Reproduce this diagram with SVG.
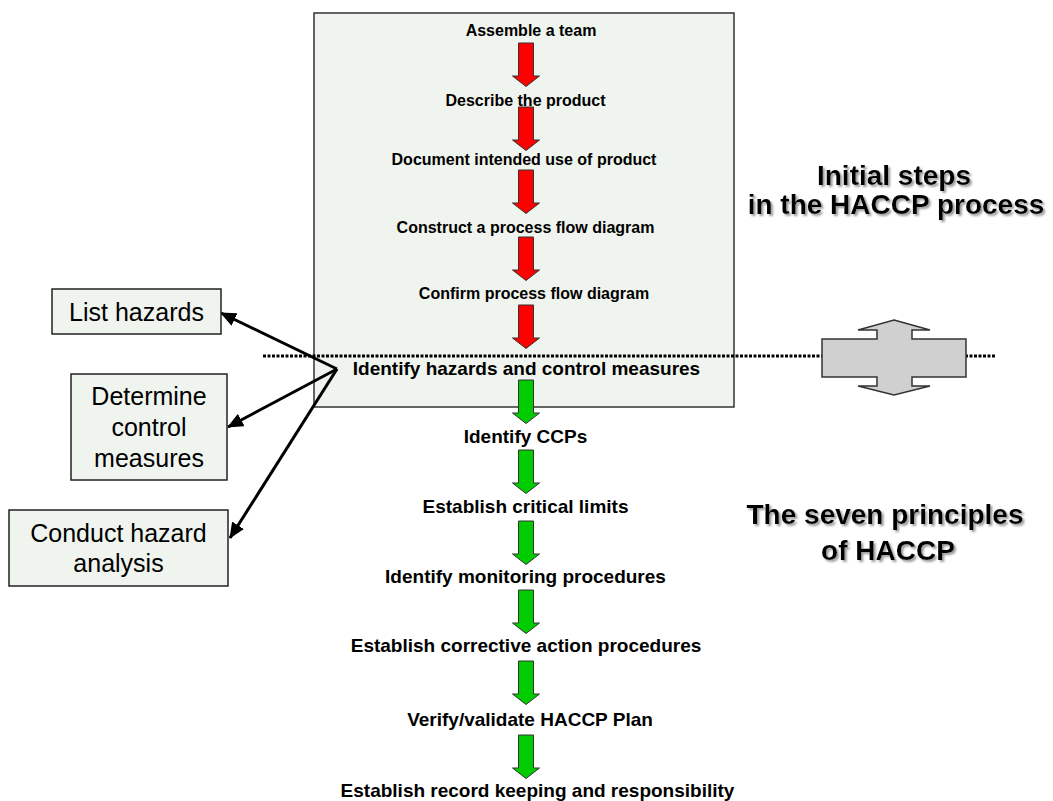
<svg xmlns="http://www.w3.org/2000/svg" width="1053" height="801" viewBox="0 0 1053 801">
<style>
.bg{fill:#ffffff}
.frame{fill:#f0f4ee;stroke:#333333;stroke-width:1.5}
.box{fill:#f0f4ee;stroke:#222222;stroke-width:1.5}
.step{font-family:"Liberation Sans",Arial,sans-serif;font-weight:bold;font-size:16px;fill:#000;text-anchor:middle}
.pr{font-family:"Liberation Sans",Arial,sans-serif;font-weight:bold;font-size:19px;fill:#000;text-anchor:middle}
.lbl{font-family:"Liberation Sans",Arial,sans-serif;font-size:25px;fill:#000;text-anchor:middle}
.title{font-family:"Liberation Sans",Arial,sans-serif;font-weight:bold;font-size:28px;fill:#000;text-anchor:middle;filter:url(#sh)}
.red{fill:#ff0000;stroke:#333333;stroke-width:1}
.green{fill:#00cc00;stroke:#333333;stroke-width:1}
.link{fill:none;stroke:#000;stroke-width:3;marker-end:url(#ah)}
.dots{stroke:#000;stroke-width:3;stroke-dasharray:3 1.5}
.dbl{fill:#d0d0d0;stroke:#333333;stroke-width:1.5}
</style>
<defs>
<filter id="sh" x="-10%" y="-30%" width="130%" height="170%">
<feDropShadow dx="2" dy="2" stdDeviation="0.8" flood-color="#999999" flood-opacity="1"/>
</filter>
<path id="blk" d="M-7.5,0 H7.5 V33 H13.5 L0,43.5 L-13.5,33 H-7.5 Z"/>
<marker id="ah" viewBox="0 0 16 14" refX="15" refY="7" markerWidth="16" markerHeight="14" markerUnits="userSpaceOnUse" orient="auto">
<path d="M0,0 L16,7 L0,14 Z" fill="#000"/>
</marker>
</defs>
<rect class="bg" x="0" y="0" width="1053" height="801"/>

<g id="initial-steps-frame">
<rect class="frame" x="314" y="13" width="420" height="394"/>
</g>

<g id="divider">
<line class="dots" x1="263" y1="356" x2="995" y2="356"/>
</g>

<g id="double-arrow">
<path class="dbl" d="M894,320 L930,330 H912 V339 H966 V377 H912 V386 H930 L894,395 L858,386 H877 V377 H822 V339 H877 V330 H858 Z"/>
</g>

<g id="title-initial">
<text class="title" x="894" y="185">Initial steps</text>
<text class="title" x="896" y="214">in the HACCP process</text>
</g>
<g id="title-principles">
<text class="title" x="885" y="524">The seven principles</text>
<text class="title" x="888" y="560">of HACCP</text>
</g>

<g id="connectors">
<use href="#blk" class="red" x="526" y="43"/>
<use href="#blk" class="red" x="526" y="107"/>
<use href="#blk" class="red" x="526" y="170"/>
<use href="#blk" class="red" x="526" y="237"/>
<use href="#blk" class="red" x="526" y="305"/>
<use href="#blk" class="green" x="526" y="380"/>
<use href="#blk" class="green" x="526" y="450"/>
<use href="#blk" class="green" x="526" y="521"/>
<use href="#blk" class="green" x="526" y="590"/>
<use href="#blk" class="green" x="526" y="661"/>
<use href="#blk" class="green" x="526" y="735"/>
<line class="link" x1="337" y1="369" x2="221" y2="313"/>
<line class="link" x1="337" y1="369" x2="228" y2="427"/>
<line class="link" x1="337" y1="369" x2="230" y2="538"/>
</g>

<g id="step-assemble"><text class="step" x="531" y="36">Assemble a team</text></g>
<g id="step-describe"><text class="step" x="525.5" y="106">Describe the product</text></g>
<g id="step-document"><text class="step" x="524" y="165">Document intended use of product</text></g>
<g id="step-construct"><text class="step" x="525.5" y="233">Construct a process flow diagram</text></g>
<g id="step-confirm"><text class="step" x="534" y="299">Confirm process flow diagram</text></g>
<g id="p-hazards"><text class="pr" x="526.5" y="375">Identify hazards and control measures</text></g>
<g id="p-ccps"><text class="pr" x="525.5" y="443">Identify CCPs</text></g>
<g id="p-limits"><text class="pr" x="525.5" y="513">Establish critical limits</text></g>
<g id="p-monitoring"><text class="pr" x="525.5" y="583">Identify monitoring procedures</text></g>
<g id="p-corrective"><text class="pr" x="526" y="652">Establish corrective action procedures</text></g>
<g id="p-verify"><text class="pr" x="530" y="726">Verify/validate HACCP Plan</text></g>
<g id="p-record"><text class="pr" x="537.5" y="797">Establish record keeping and responsibility</text></g>

<g id="box-list">
<rect class="box" x="52" y="289" width="169" height="45"/>
<text class="lbl" x="136.5" y="321">List hazards</text>
</g>
<g id="box-determine">
<rect class="box" x="71" y="374" width="156" height="106"/>
<text class="lbl" x="149" y="405">Determine</text>
<text class="lbl" x="149" y="436">control</text>
<text class="lbl" x="149" y="467">measures</text>
</g>
<g id="box-conduct">
<rect class="box" x="9" y="510" width="219" height="76"/>
<text class="lbl" x="118.5" y="542">Conduct hazard</text>
<text class="lbl" x="118.5" y="572">analysis</text>
</g>
</svg>
